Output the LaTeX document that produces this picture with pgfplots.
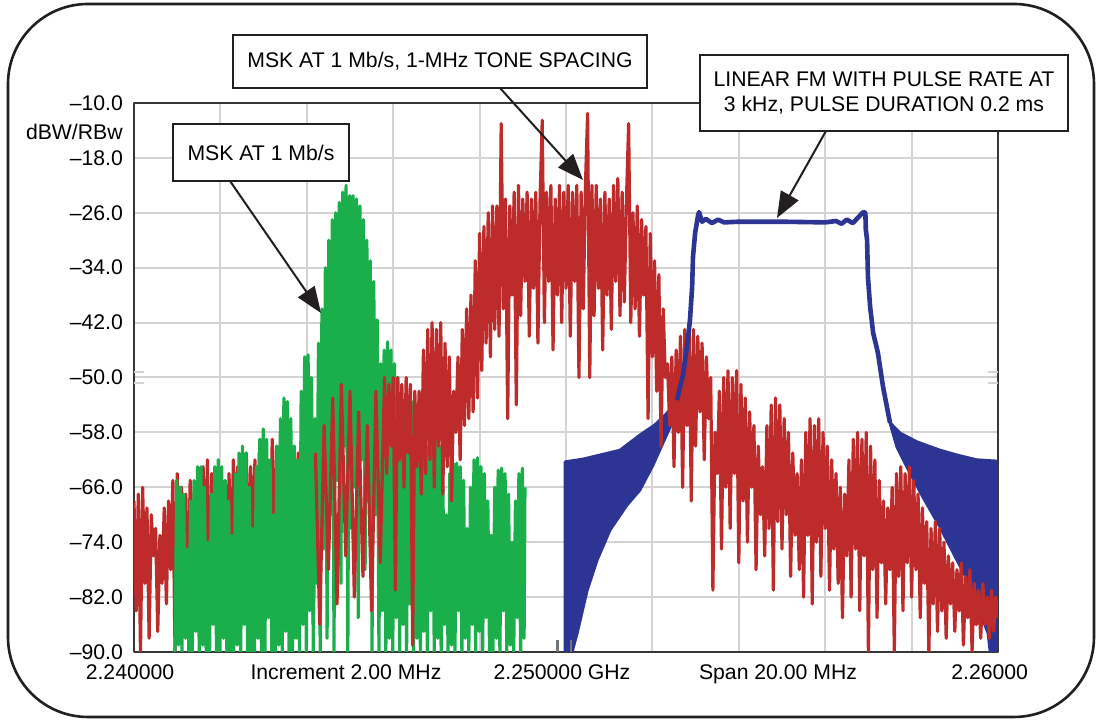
\documentclass[border=0pt]{standalone}
\usepackage{fontspec}
\setmainfont{Liberation Sans}
\usepackage{pgfplots}
\pgfplotsset{compat=1.18}
\usetikzlibrary{arrows.meta}
\definecolor{tr}{RGB}{189,43,43}
\definecolor{tg}{RGB}{27,175,75}
\definecolor{tb}{RGB}{44,52,148}
\definecolor{gridc}{RGB}{211,211,211}
\definecolor{axc}{RGB}{55,55,55}
\definecolor{mk}{RGB}{110,118,121}
\definecolor{ink}{RGB}{35,31,32}
\newcommand{\lbl}{\fontsize{10.6}{12.6}\selectfont}
\begin{document}
\begin{tikzpicture}[x=0.5pt,y=0.5pt]
\useasboundingbox (0,0) rectangle (1100,721);
\draw[ink, line width=1.3pt, rounded corners=40pt] (8,4) rectangle (1094,717);
\begin{axis}[
  at={(67pt,34.5pt)}, anchor=south west,
  scale only axis, width=432pt, height=274.5pt,
  xmin=0, xmax=20, ymin=-90, ymax=-10,
  xtick={0,2,...,20}, xticklabels={},
  ytick={-90,-82,...,-10},
  yticklabels={\textendash90.0,\textendash82.0,\textendash74.0,\textendash66.0,\textendash58.0,\textendash50.0,\textendash42.0,\textendash34.0,\textendash26.0,\textendash18.0,\textendash10.0},
  major tick length=0pt,
  grid=major, grid style={gridc, line width=1pt},
  axis line style={axc, line width=1.3pt},
  extra x ticks={0,5,10,15,19.9},
  extra x tick labels={2.240000,Increment 2.00 MHz,2.250000 GHz,Span 20.00 MHz,2.26000},
  extra x tick style={grid=none, major tick length=0pt},
  tick label style={font=\lbl, text=black},
  xticklabel style={yshift=-3pt, xshift=-2pt},
  yticklabel style={xshift=-2pt},
  line join=round,
]
% blue linear FM spectrum (fill + outline)
\addplot[tb, fill=tb, line width=1.5pt, mark=none] coordinates {
(9.98,-62.3)(10.39,-61.9)(10.79,-61.3)(11.25,-60.6)(11.71,-58.4)(12.06,-56.9)(12.34,-55.2)(12.57,-53.3)
(12.71,-49.6)(12.82,-44.5)(12.87,-41.6)(12.92,-36.8)(12.94,-32.4)(12.99,-28.9)(13.06,-26.3)(13.08,-25.9)
(13.15,-27.3)(13.24,-26.9)(13.38,-27.5)(13.52,-27.0)(13.66,-27.4)(14.0,-27.3)(15.0,-27.3)(16.0,-27.4)
(16.25,-27.2)(16.38,-27.6)(16.50,-27.0)(16.64,-27.5)(16.88,-25.9)(16.93,-26.0)(16.94,-28.4)(16.97,-30.0)
(16.99,-35.4)(17.04,-39.7)(17.11,-43.5)(17.22,-46.4)(17.34,-51.4)(17.50,-56.6)(17.73,-58.1)(18.13,-59.4)
(18.66,-60.6)(19.05,-61.3)(19.51,-62.0)(20.0,-62.2)(20.0,-90)
(19.82,-90)(19.77,-87.2)(19.65,-85.3)(19.42,-81.0)(19.05,-76.6)(18.66,-71.8)(18.26,-67.4)(17.89,-63.0)
(17.66,-60.1)(17.50,-56.6)
(17.34,-51.4)(17.22,-46.4)(17.11,-43.5)(17.04,-39.7)(16.99,-35.4)(16.97,-30.0)(16.94,-28.4)(16.93,-26.0)
(16.88,-25.9)(16.64,-27.5)(16.50,-27.0)(16.38,-27.6)(16.25,-27.2)(16.0,-27.4)(15.0,-27.3)(14.0,-27.3)
(13.66,-27.4)(13.52,-27.0)(13.38,-27.5)(13.24,-26.9)(13.15,-27.3)(13.08,-25.9)(13.06,-26.3)(12.99,-28.9)
(12.94,-32.4)(12.92,-36.8)(12.87,-41.6)(12.82,-44.5)(12.71,-49.6)(12.57,-53.3)
(12.41,-57.2)(12.01,-62.8)(11.71,-66.4)(11.41,-68.6)(11.02,-72.2)(10.72,-76.6)(10.49,-81.0)(10.26,-87.2)
(10.14,-90)(9.98,-90)
} -- cycle;
% red MSK with tone spacing, part 1
\addplot[tr, line width=1.6pt, mark=none] coordinates {
(0.00,-68)(0.05,-84)(0.10,-67)(0.15,-90)(0.20,-66)(0.25,-80)(0.30,-69)(0.35,-88)(0.40,-70)(0.45,-76)
(0.50,-72)(0.55,-87)(0.60,-73)(0.65,-80)(0.70,-69)(0.75,-83)(0.80,-68)(0.85,-78)(0.90,-65)(0.95,-90)
(1.00,-64)(1.05,-80)(1.10,-66)(1.15,-78)(1.20,-67)(1.25,-84)(1.30,-65)(1.35,-79)(1.40,-66)(1.45,-76)
(1.50,-64)(1.55,-82)(1.60,-63)(1.65,-77)(1.70,-62)(1.75,-86)(1.80,-64)(1.85,-78)(1.90,-65)(1.95,-80)
(2.00,-66)(2.05,-75)(2.10,-67)(2.15,-82)(2.20,-64)(2.25,-79)(2.30,-62)(2.35,-77)(2.40,-63)(2.45,-84)
(2.50,-62)(2.55,-76)(2.60,-61)(2.65,-80)(2.70,-63)(2.75,-74)(2.80,-62)(2.85,-82)(2.90,-61)(2.95,-77)
(3.00,-60)(3.05,-79)(3.10,-62)(3.15,-76)(3.20,-59)(3.25,-81)(3.30,-60)(3.35,-75)(3.40,-58)(3.45,-78)
(3.50,-59)(3.55,-83)(3.60,-59)(3.65,-80)(3.70,-60)(3.75,-87)(3.80,-61)(3.85,-78)(3.90,-62)(3.95,-85)
(4.00,-62)(4.05,-79)(4.10,-60)(4.15,-86)(4.20,-61)
};
% green MSK at 1 Mb/s
\addplot[tg, line width=1.6pt, mark=none] coordinates {
(0.95,-90)(0.99,-65)(1.03,-89)(1.07,-66)(1.11,-90)(1.15,-67)(1.19,-88)(1.23,-75)(1.27,-90)(1.31,-68)
(1.35,-90)(1.39,-65)(1.43,-87)(1.47,-63)(1.51,-90)(1.55,-63)(1.59,-89)(1.63,-66)(1.67,-90)(1.71,-74)
(1.75,-90)(1.79,-67)(1.83,-86)(1.87,-63)(1.91,-90)(1.95,-62)(1.99,-90)(2.03,-63)(2.07,-88)(2.11,-65)
(2.15,-90)(2.19,-68)(2.23,-90)(2.27,-73)(2.31,-90)(2.35,-64)(2.39,-89)(2.43,-61)(2.47,-90)(2.51,-60)
(2.55,-86)(2.59,-61)(2.63,-90)(2.67,-66)(2.71,-90)(2.75,-72)(2.79,-90)(2.83,-63)(2.87,-88)(2.91,-59)
(2.95,-90)(2.99,-57.5)(3.03,-90)(3.07,-59)(3.11,-85)(3.15,-62)(3.19,-90)(3.23,-70)(3.27,-90)(3.31,-60)
(3.35,-89)(3.39,-56)(3.43,-90)(3.47,-53)(3.51,-87)(3.55,-53.5)(3.59,-90)(3.63,-56)(3.67,-90)(3.71,-60)
(3.75,-88)(3.79,-62)(3.83,-90)(3.87,-52)(3.91,-86)(3.95,-47)(3.99,-90)(4.03,-46.7)(4.07,-84)(4.11,-50)
(4.15,-90)(4.19,-56)(4.23,-80)(4.27,-45)(4.31,-90)(4.35,-40)(4.39,-75)(4.43,-34)(4.47,-88)(4.51,-30)
(4.55,-70)(4.59,-27)(4.63,-90)(4.67,-26)(4.71,-65)(4.75,-24.5)(4.79,-80)(4.83,-23)(4.87,-60)(4.91,-22)
(4.95,-90)(4.99,-23.5)(5.03,-72)(5.07,-23.5)(5.11,-66)(5.15,-24)(5.19,-85)(5.23,-25)(5.27,-62)(5.31,-27)
(5.35,-78)(5.39,-30)(5.43,-68)(5.47,-33)(5.51,-90)(5.55,-36)(5.59,-70)(5.63,-41.6)(5.67,-90)(5.71,-48)
(5.75,-84)(5.79,-46)(5.83,-90)(5.87,-44.8)(5.91,-88)(5.95,-46)(5.99,-90)(6.03,-48)(6.07,-85)(6.11,-50)
(6.15,-90)(6.19,-53)(6.23,-86)(6.27,-53.5)(6.31,-90)(6.35,-53)(6.39,-83)(6.43,-53.5)(6.47,-90)(6.51,-56)
(6.55,-88)(6.59,-60)(6.63,-90)(6.67,-56)(6.71,-87)(6.75,-58)(6.79,-90)(6.83,-60)(6.87,-84)(6.91,-59)
(6.95,-90)(6.99,-58.7)(7.03,-88)(7.07,-60)(7.11,-90)(7.15,-66)(7.19,-86)(7.23,-70)(7.27,-90)(7.31,-64)
(7.35,-89)(7.39,-62.5)(7.43,-90)(7.47,-62.5)(7.51,-84)(7.55,-63)(7.59,-90)(7.63,-65)(7.67,-88)(7.71,-72)
(7.75,-90)(7.79,-66)(7.83,-86)(7.87,-62)(7.91,-90)(7.95,-61.7)(7.99,-87)(8.03,-63)(8.07,-90)(8.11,-64)
(8.15,-85)(8.19,-68)(8.23,-90)(8.27,-73)(8.31,-90)(8.35,-66)(8.39,-88)(8.43,-63.5)(8.47,-90)(8.51,-63.2)
(8.55,-84)(8.59,-64)(8.63,-90)(8.67,-67)(8.71,-89)(8.75,-74)(8.79,-90)(8.83,-68)(8.87,-85)(8.91,-64)
(8.95,-90)(8.99,-63.2)(9.03,-88)(9.05,-66)
};
% red MSK with tone spacing, part 2
\addplot[tr, line width=1.6pt, mark=none] coordinates {
(4.20,-61)(4.30,-86)(4.40,-57)(4.50,-78)(4.60,-53)(4.70,-83)(4.80,-51)(4.90,-76)(5.00,-52)(5.10,-82)
(5.20,-55)(5.30,-79)(5.40,-57)(5.50,-84)(5.60,-52)(5.70,-77)(5.80,-50)
(5.85,-64)(5.90,-51)(5.95,-60)(6.00,-50)(6.05,-81)(6.10,-50)(6.15,-62)(6.20,-51)(6.25,-66)(6.30,-50)
(6.35,-61)(6.40,-51)(6.45,-89)(6.50,-52)(6.55,-63)(6.60,-52)(6.65,-67)(6.70,-46)(6.75,-64)(6.80,-43)
(6.85,-62)(6.90,-42)(6.95,-66)(7.00,-43)(7.05,-60)(7.10,-42)(7.15,-67)(7.20,-45)(7.25,-63)(7.30,-47)
(7.35,-68)(7.40,-52)(7.45,-58)(7.50,-47)(7.55,-62)(7.60,-43)(7.65,-57)(7.70,-40)(7.75,-56)(7.80,-38)
(7.85,-55)(7.90,-33)(7.95,-53)(8.00,-29)(8.05,-49)(8.10,-28)(8.15,-45)(8.20,-26)(8.25,-47)(8.30,-25)
(8.35,-43)(8.40,-25)(8.45,-44)(8.50,-13)(8.55,-40)(8.60,-24)(8.65,-56)(8.70,-25)(8.75,-38)(8.80,-23)
(8.85,-54)(8.90,-22)(8.95,-41)(9.00,-24)(9.05,-36)(9.10,-23)(9.15,-44)(9.20,-24)(9.25,-37)(9.30,-23)
(9.35,-45)(9.40,-24)(9.45,-12.5)(9.50,-42)(9.55,-23)(9.60,-36)(9.65,-22)(9.70,-46)(9.75,-24)(9.80,-38)
(9.85,-22)(9.90,-42)(9.95,-23)(10.00,-37)(10.05,-22)(10.10,-44)(10.15,-23)(10.20,-36)(10.25,-22)(10.30,-50)
(10.35,-23)(10.40,-40)(10.45,-22)(10.50,-11.5)(10.55,-50)(10.60,-22)(10.65,-41)(10.70,-22)(10.75,-37)(10.80,-24)
(10.85,-46)(10.90,-23)(10.95,-38)(11.00,-24)(11.05,-43)(11.10,-22)(11.15,-36)(11.20,-21)(11.25,-41)(11.30,-23)
(11.35,-39)(11.40,-24)(11.45,-13)(11.50,-42)(11.55,-26)(11.60,-40)(11.65,-25)(11.70,-44)(11.75,-27)(11.80,-38)
(11.85,-28)(11.90,-56)(11.95,-29)(12.00,-47)(12.05,-33)(12.10,-52)(12.15,-35)(12.20,-60)(12.25,-40)(12.30,-50)
(12.35,-48)(12.40,-57)(12.45,-47)(12.50,-63)(12.55,-46)(12.60,-58)(12.65,-44)(12.70,-66)(12.75,-43)(12.80,-57)
(12.85,-43)(12.90,-68)(12.95,-43)(13.00,-60)(13.05,-44)(13.10,-55)(13.15,-45)(13.20,-62)(13.25,-47)(13.30,-56)
(13.35,-50)(13.40,-81)(13.45,-58)(13.50,-64)
(13.55,-52)(13.60,-75)(13.65,-50)(13.70,-66)(13.75,-49)(13.80,-72)(13.85,-50)(13.90,-64)(13.95,-49)(14.00,-77)
(14.05,-51)(14.10,-68)(14.15,-53)(14.20,-74)(14.25,-55)(14.30,-66)(14.35,-57)(14.40,-78)(14.45,-60)(14.50,-70)
(14.55,-63)(14.60,-76)(14.65,-57)(14.70,-72)(14.75,-54)(14.80,-81)(14.85,-53)(14.90,-71)(14.95,-54)(15.00,-75)
(15.05,-56)(15.10,-70)(15.15,-58)(15.20,-79)(15.25,-61)(15.30,-73)(15.35,-64)(15.40,-78)(15.45,-62)(15.50,-82)
(15.55,-58)(15.60,-73)(15.65,-56)(15.70,-83)(15.75,-57)(15.80,-74)(15.85,-56)(15.90,-79)(15.95,-58)(16.00,-72)
(16.05,-60)(16.10,-81)(16.15,-62)(16.20,-75)(16.25,-64)(16.30,-80)(16.35,-66)(16.40,-85)(16.45,-67)(16.50,-76)
(16.55,-62)(16.60,-82)(16.65,-59)(16.70,-75)(16.75,-58)(16.80,-84)(16.85,-59)(16.90,-76)(16.95,-58)(17.00,-90)
(17.05,-60)(17.10,-78)(17.15,-62)(17.20,-85)(17.25,-65)(17.30,-77)(17.35,-68)(17.40,-83)(17.45,-69)(17.50,-78)
(17.55,-66)(17.60,-90)(17.65,-64)(17.70,-79)(17.75,-63)(17.80,-84)(17.85,-64)(17.90,-77)(17.95,-63)(18.00,-82)
(18.05,-65)(18.10,-78)(18.15,-67)(18.20,-85)(18.25,-69)(18.30,-80)(18.35,-71)(18.40,-90)(18.45,-72)(18.50,-83)
(18.55,-71)(18.60,-87)(18.65,-72)(18.70,-84)(18.75,-74)(18.80,-88)(18.85,-76)(18.90,-83)(18.95,-77)(19.00,-87)
(19.05,-78)(19.10,-84)(19.15,-77)(19.20,-89)(19.25,-79)(19.30,-85)(19.35,-78)(19.40,-90)(19.45,-80)(19.50,-86)
(19.55,-81)(19.60,-88)(19.65,-80)(19.70,-86)(19.75,-82)(19.80,-88)(19.85,-81)(19.90,-87)(19.95,-82)(20.00,-85)
};
% blue main curve redrawn over the red
\addplot[tb, line width=2.3pt, mark=none] coordinates {
(12.57,-53.3)(12.71,-49.6)(12.82,-44.5)(12.87,-41.6)(12.92,-36.8)(12.94,-32.4)(12.99,-28.9)(13.06,-26.3)(13.08,-25.9)
(13.15,-27.3)(13.24,-26.9)(13.38,-27.5)(13.52,-27.0)(13.66,-27.4)(14.0,-27.3)(15.0,-27.3)(16.0,-27.4)
(16.25,-27.2)(16.38,-27.6)(16.50,-27.0)(16.64,-27.5)(16.88,-25.9)(16.93,-26.0)(16.94,-28.4)(16.97,-30.0)
(16.99,-35.4)(17.04,-39.7)(17.11,-43.5)(17.22,-46.4)(17.34,-51.4)(17.50,-56.6)
};
% analyser markers
\addplot[mk, line width=1.3pt, mark=none] coordinates {(9.81,-88.3)(9.81,-90)};
\addplot[mk, line width=1.3pt, mark=none] coordinates {(10.12,-88.3)(10.12,-90)};
\draw[gridc, line width=1pt] (axis cs:0,-49.2) -- (axis cs:0.24,-49.2) (axis cs:0,-50.8) -- (axis cs:0.24,-50.8);
\draw[gridc, line width=1pt] (axis cs:19.76,-49.2) -- (axis cs:20,-49.2) (axis cs:19.76,-50.8) -- (axis cs:20,-50.8);
\end{axis}
\node[anchor=east, font=\lbl, inner sep=0pt] at (123,589) {dBW/RBw};
% annotations
\draw[ink, line width=1pt, fill=white] (173,597) rectangle (349,540);
\node[font=\lbl] at (261,568.5) {MSK AT 1 Mb/s};
\draw[ink, line width=1pt, -{Triangle[length=13pt,width=10pt]}] (230,540) -- (321,408);
\draw[ink, line width=1pt, fill=white] (233,686) rectangle (647,633);
\node[font=\lbl] at (440,659.5) {MSK AT 1 Mb/s, 1-MHz TONE SPACING};
\draw[ink, line width=1pt, -{Triangle[length=13pt,width=10pt]}] (500,633) -- (583,541);
\draw[ink, line width=1pt, fill=white] (700,666) rectangle (1068,590);
\node[font=\lbl, align=center] at (884,628) {LINEAR FM WITH PULSE RATE AT\\3 kHz, PULSE DURATION 0.2 ms};
\draw[ink, line width=1pt, -{Triangle[length=13pt,width=10pt]}] (826,590) -- (777,503);
\end{tikzpicture}
\end{document}
